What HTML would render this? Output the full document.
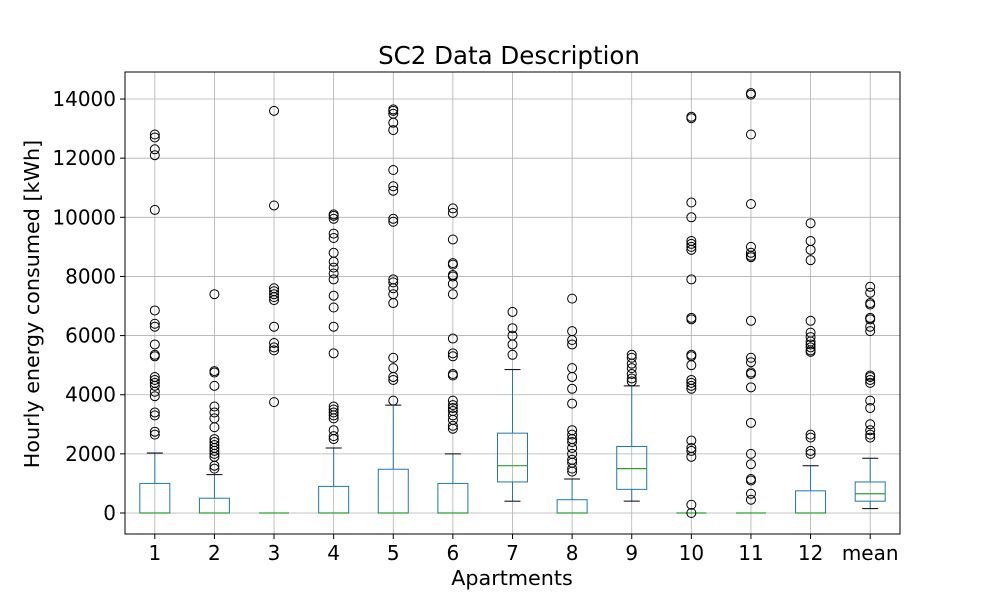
<!DOCTYPE html>
<html><head><meta charset="utf-8"><style>
body{margin:0;background:#fff}
svg text{font-family:"DejaVu Sans","Liberation Sans",sans-serif;fill:#000}
</style></head><body>
<svg id="chart" width="1000" height="600">
<text x="509" y="64" text-anchor="middle" font-size="24.5">SC2 Data Description</text>
<text x="512" y="585" text-anchor="middle" font-size="20.7">Apartments</text>
<text x="0" y="0" transform="translate(39,304) rotate(-90)" text-anchor="middle" font-size="20.7">Hourly energy consumed [kWh]</text>
<g id="grid"></g><g id="marks"></g><g id="ticks"></g>
<rect x="125" y="72" width="775" height="462" fill="none" stroke="#000" stroke-width="1"/>
</svg>
<script>
const categories=["1","2","3","4","5","6","7","8","9","10","11","12","mean"];
const q1=[0,0,0,0,0,0,1050,0,800,0,0,0,400];
const med=[0,0,0,0,0,0,1600,0,1500,0,0,0,650];
const q3=[1000,500,0,900,1480,1000,2700,450,2250,0,0,750,1050];
const whiskLo=[0,0,0,0,0,0,400,0,400,0,0,0,150];
const whiskHi=[2030,1300,0,2200,3650,2000,4850,1150,4300,0,0,1600,1850];
const outliers=[
[2650,2750,3300,3400,3950,4100,4300,4400,4500,4600,5300,5350,5700,6300,6400,6850,10250,12100,12300,12700,12800],
[1500,1600,1900,2000,2100,2200,2300,2400,2500,2900,3200,3400,3600,4300,4750,4800,7400],
[3750,5500,5600,5750,6300,7200,7300,7400,7500,7600,10400,13600],
[2500,2600,2800,3200,3300,3400,3500,3600,5400,6300,6950,7350,7900,8100,8300,8500,8800,9300,9450,9950,10050,10100],
[3800,4500,4600,4900,5250,7100,7400,7600,7800,7900,9850,9950,10900,11050,11600,12950,13200,13500,13600,13650],
[2850,2950,3150,3300,3450,3550,3650,3800,4650,4700,5300,5400,5900,7400,7750,8000,8050,8400,8450,9250,10150,10300],
[5350,5700,6000,6250,6800],
[1400,1500,1700,1800,2000,2200,2400,2500,2650,2800,3700,4200,4600,4900,5700,5850,6150,7250],
[4450,4550,4700,4900,5050,5250,5350],
[0,280,1900,2100,2200,2450,4200,4300,4400,4500,5000,5300,5350,6550,6600,7900,8900,9000,9100,9200,10000,10500,13350,13400],
[450,650,1100,1150,1650,2000,3050,4250,4700,4750,5100,5250,6500,8650,8700,8800,9000,10450,12800,14150,14200],
[2000,2100,2550,2650,5450,5500,5600,5700,5800,5950,6100,6500,8550,8900,9200,9800],
[2550,2650,2800,3000,3550,3800,4400,4500,4600,4650,6150,6300,6550,6600,7050,7100,7450,7650]];
const yTicks=[0,2000,4000,6000,8000,10000,12000,14000];
const L=125,R=900,T=72,B=534,yMin=-710,yMax=14914;
const ys=v=>B-(v-yMin)/(yMax-yMin)*(B-T);
const xs=i=>L+(i+0.5)*(R-L)/categories.length;
const NS="http://www.w3.org/2000/svg";
function mk(p,tag,a){const e=document.createElementNS(NS,tag);for(const k in a)e.setAttribute(k,a[k]);document.getElementById(p).appendChild(e);return e;}
yTicks.forEach(v=>{const y=ys(v);
const g=mk("grid","line",{x1:L,x2:R,y1:y,y2:y,stroke:"#b0b0b0","stroke-width":0.8});


mk("ticks","line",{x1:L-5,x2:L,y1:y,y2:y,stroke:"#000"});
const t=mk("ticks","text",{x:L-9,y:y+7,"text-anchor":"end","font-size":20});t.textContent=v;

});
categories.forEach((c,i)=>{const x=xs(i),hw=15;
const g=mk("grid","line",{x1:x,x2:x,y1:T,y2:B,stroke:"#b0b0b0","stroke-width":0.8});


mk("ticks","line",{x1:x,x2:x,y1:B,y2:B+5,stroke:"#000"});
const t=mk("ticks","text",{x:x,y:B+26,"text-anchor":"middle","font-size":20});t.textContent=c;


const bx=mk("marks","rect",{x:x-hw,y:ys(q3[i]),width:2*hw,height:Math.max(0,ys(q1[i])-ys(q3[i])),fill:"none",stroke:"#1f77b4","stroke-width":1});


mk("marks","line",{x1:x,x2:x,y1:ys(q3[i]),y2:ys(whiskHi[i]),stroke:"#1f77b4"});
mk("marks","line",{x1:x,x2:x,y1:ys(q1[i]),y2:ys(whiskLo[i]),stroke:"#1f77b4"});
mk("marks","line",{x1:x-8,x2:x+8,y1:ys(whiskHi[i]),y2:ys(whiskHi[i]),stroke:"#000"});
mk("marks","line",{x1:x-8,x2:x+8,y1:ys(whiskLo[i]),y2:ys(whiskLo[i]),stroke:"#000"});
const m=mk("marks","line",{x1:x-hw,x2:x+hw,y1:ys(med[i]),y2:ys(med[i]),stroke:"#2ca02c","stroke-width":1.2});


outliers[i].forEach(v=>{const o=mk("marks","circle",{cx:x,cy:ys(v),r:4.5,fill:"none",stroke:"#000","stroke-width":1});

});
});
</script>
</body></html>
